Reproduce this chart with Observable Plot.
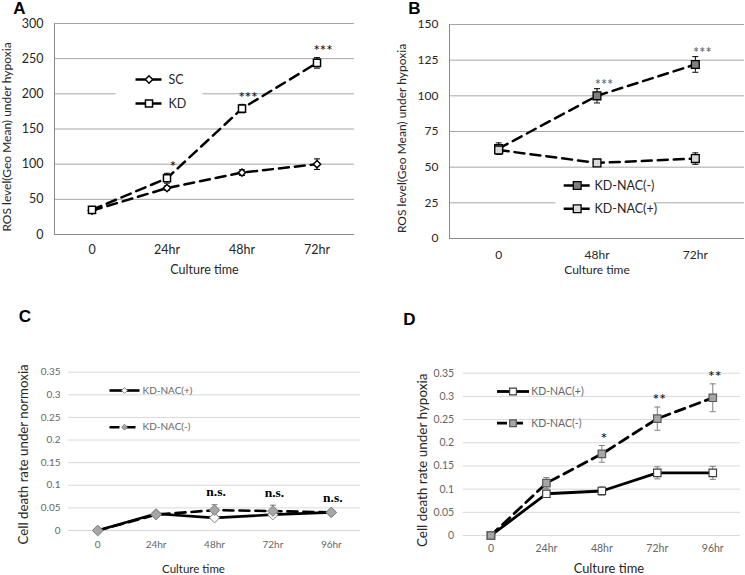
<!DOCTYPE html>
<html><head><meta charset="utf-8">
<script src="https://cdn.jsdelivr.net/npm/d3@7"></script>
<script src="https://cdn.jsdelivr.net/npm/@observablehq/plot@0.6"></script>
<style>
body{margin:0;background:#fff;}
#fig{position:relative;width:745px;height:575px;overflow:hidden;background:#fff;}
#fig > div{position:absolute;}
</style></head><body><div id="fig"></div>
<script>
// ---------- DATA ----------
// Panel A
const timesA = ["0", "24hr", "48hr", "72hr"];
const scMeanA = [34, 66, 88, 100];
const scErrA = [2, 3, 4, 7.5];
const kdMeanA = [35, 80, 179, 244];
const kdErrA = [3, 7, 6, 7.5];
const sigA = ["", "*", "***", "***"];
// Panel B
const timesB = ["0", "48hr", "72hr"];
const nacMinusB = [63, 100, 122];
const nacMinusErrB = [4, 5, 5.5];
const nacPlusB = [62, 53, 56];
const nacPlusErrB = [3, 1.5, 4];
const sigB = ["", "***", "***"];
// Panel C
const timesC = ["0", "24hr", "48hr", "72hr", "96hr"];
const nacPlusC = [0, 0.037, 0.028, 0.035, 0.040];
const nacPlusErrC = [0, 0.004, 0.003, 0.004, 0.003];
const nacMinusC = [0, 0.035, 0.045, 0.043, 0.040];
const nacMinusErrC = [0, 0.005, 0.012, 0.013, 0.004];
const sigC = ["", "", "n.s.", "n.s.", "n.s."];
// Panel D
const timesD = ["0", "24hr", "48hr", "72hr", "96hr"];
const nacPlusD = [0, 0.090, 0.096, 0.135, 0.135];
const nacPlusErrD = [0, 0.006, 0.009, 0.013, 0.014];
const nacMinusD = [0, 0.113, 0.176, 0.252, 0.297];
const nacMinusErrD = [0, 0.012, 0.018, 0.025, 0.030];
const sigD = ["", "", "*", "**", "**"];

const ticksA = d3.range(0, 301, 50);
const ticksB = d3.range(0, 151, 25);
const ticksCD = d3.range(0, 0.351, 0.05);

// ---------- helpers ----------
const hline = w => ({draw(ctx) { ctx.moveTo(-w, 0); ctx.lineTo(w, 0); }});
const box = (w, h) => ({draw(ctx) { ctx.rect(-w / 2, -h / 2, w, h); }});
const fmtDec = d => String(+d.toFixed(2));

function buildPanel(c) {
  const n = c.cats.length;
  const m = c.margin;
  const marks = [];
  marks.push(Plot.gridY({ticks: c.yTicks, stroke: c.gridColor, strokeOpacity: 1, strokeWidth: 1}));
  if (c.axisColor) {
    marks.push(Plot.ruleY([c.yDomain[0]], {stroke: c.axisColor, strokeWidth: 1}));
    marks.push(Plot.ruleX([-0.5], {stroke: c.axisColor, strokeWidth: 1}));
  }
  const L = c.legend;
  if (L.bg) {
    marks.push(Plot.dot([0], {frameAnchor: "top-left",
      dx: (L.bg[0] + L.bg[2]) / 2 - m.left, dy: (L.bg[1] + L.bg[3]) / 2 - m.top,
      symbol: box(L.bg[2] - L.bg[0], L.bg[3] - L.bg[1]), fill: "white", stroke: "none"}));
  }
  marks.push(Plot.axisY({ticks: c.yTicks, tickFormat: c.yFmt, tickSize: 0, tickPadding: c.yTickPad,
    fontSize: c.tickFont, color: c.tickColor, label: null}));
  marks.push(Plot.axisX({ticks: d3.range(n), tickFormat: i => c.cats[i], tickSize: 0, tickPadding: c.xTickPad,
    fontSize: c.tickFont, color: c.tickColor, label: null}));
  marks.push(Plot.text([c.xTitle], {text: d => d, frameAnchor: "bottom", textAnchor: "middle", lineAnchor: "middle",
    dx: c.xTitleDx, dy: c.xTitleDy, fontSize: c.xTitleFont, fill: c.titleColor}));
  marks.push(Plot.text([c.yTitle], {text: d => d, frameAnchor: "left", textAnchor: "middle", lineAnchor: "middle",
    rotate: -90, dx: c.yTitleDx, dy: c.yTitleDy, fontSize: c.yTitleFont, fill: c.titleColor}));
  marks.push(Plot.text([c.letter], {text: d => d, frameAnchor: "top-left", textAnchor: "middle", lineAnchor: "middle",
    dx: c.letterPos[0] - m.left, dy: c.letterPos[1] - m.top, fontSize: 17, fontWeight: "bold", fill: "black",
    fontFamily: "Liberation Sans, Arial, sans-serif"}));
  const rows = c.series.map(s => s.mean.map((v, i) => ({t: i, y: v, e: s.err[i]})));
  c.series.forEach((s, k) => {
    marks.push(Plot.line(rows[k], {x: "t", y: "y", stroke: "black", strokeWidth: s.lw, strokeDasharray: s.dash}));
  });
  c.series.forEach((s, k) => {
    const re = rows[k].filter(d => d.e > 0);
    marks.push(Plot.ruleX(re, {x: "t", y1: d => d.y - d.e, y2: d => d.y + d.e, stroke: s.errColor, strokeWidth: 1}));
    marks.push(Plot.dot(re, {x: "t", y: d => d.y + d.e, symbol: hline(s.capW), stroke: s.errColor, strokeWidth: 1, fill: "none"}));
    marks.push(Plot.dot(re, {x: "t", y: d => d.y - d.e, symbol: hline(s.capW), stroke: s.errColor, strokeWidth: 1, fill: "none"}));
  });
  c.series.forEach((s, k) => {
    marks.push(Plot.dot(rows[k], {x: "t", y: "y", symbol: s.symbol, r: s.r, fill: s.fill, stroke: s.stroke, strokeWidth: s.mw}));
  });
  const sigRows = c.sig.map((lab, i) => ({t: i, s: lab,
    y: d3.max(rows, r => r[i].y + r[i].e)})).filter(d => d.s);
  marks.push(Plot.text(sigRows, {x: "t", y: "y", text: "s", dx: c.sigDx, dy: c.sigDy, fontSize: c.sigFont,
    fill: c.sigColor, fontWeight: c.sigWeight || "normal", fontFamily: c.sigFamily || "Lato, sans-serif"}));
  c.series.forEach((s, k) => {
    const dy = L.y0 + k * L.gap - m.top;
    marks.push(Plot.dot([0], {frameAnchor: "top-left", dx: L.lineX - m.left, dy, symbol: hline(L.half),
      stroke: "black", strokeWidth: s.lw, strokeDasharray: s.dash, fill: "none"}));
    marks.push(Plot.dot([0], {frameAnchor: "top-left", dx: L.lineX - m.left, dy, symbol: s.symbol,
      r: s.lr || s.r, fill: s.fill, stroke: s.stroke, strokeWidth: s.mw}));
    marks.push(Plot.text([s.name], {text: d => d, frameAnchor: "top-left", dx: L.textX - m.left, dy,
      textAnchor: "start", lineAnchor: "middle", fontSize: L.fontSize, fill: L.color}));
  });
  const svg = Plot.plot({
    width: c.width, height: c.height,
    marginTop: m.top, marginRight: m.right, marginBottom: m.bottom, marginLeft: m.left,
    x: {domain: [-0.5, n - 0.5], label: null},
    y: {domain: c.yDomain, label: null},
    style: {fontFamily: "Lato, sans-serif", background: "white", color: "#262626", overflow: "visible"},
    marks
  });
  const holder = document.createElement("div");
  holder.style.left = c.left + "px";
  holder.style.top = c.top + "px";
  holder.appendChild(svg);
  document.getElementById("fig").appendChild(holder);
}

// ---------- Panel A ----------
buildPanel({
  left: 0, top: 0, width: 370, height: 290,
  margin: {top: 23, right: 16, bottom: 56, left: 54},
  cats: timesA, yDomain: [0, 300], yTicks: ticksA, yFmt: d => d,
  gridColor: "#a6a6a6", axisColor: "#8c8c8c",
  tickFont: 12.5, tickColor: "#262626", yTickPad: 11, xTickPad: 11,
  xTitle: "Culture time", xTitleFont: 12.5, xTitleDx: 0, xTitleDy: 35,
  yTitle: "ROS level(Geo Mean) under hypoxia", yTitleFont: 12, yTitleDx: -47.5, yTitleDy: 8,
  titleColor: "#262626",
  letter: "A", letterPos: [19, 8],
  series: [
    {name: "SC", mean: scMeanA, err: scErrA, symbol: "diamond2", r: 3.3, fill: "white", stroke: "black", mw: 1.5,
     lw: 2.5, dash: "10,6", errColor: "black", capW: 3},
    {name: "KD", mean: kdMeanA, err: kdErrA, symbol: "square", r: 4, fill: "white", stroke: "black", mw: 1.5,
     lw: 2.5, dash: "10,6", errColor: "black", capW: 3}
  ],
  sig: sigA, sigDx: 6, sigDy: -6, sigFont: 15, sigColor: "black",
  legend: {bg: [115, 64, 202, 121], lineX: 148.5, half: 13.5, textX: 168, y0: 79, gap: 24, fontSize: 12.5, color: "#262626"}
});

// ---------- Panel B ----------
buildPanel({
  left: 370, top: 0, width: 375, height: 290,
  margin: {top: 24, right: 1, bottom: 52, left: 79},
  cats: timesB, yDomain: [0, 150], yTicks: ticksB, yFmt: d => d,
  gridColor: "#a6a6a6", axisColor: "#8c8c8c",
  tickFont: 12, tickColor: "#262626", yTickPad: 11, xTickPad: 12,
  xTitle: "Culture time", xTitleFont: 12, xTitleDx: 0, xTitleDy: 32,
  yTitle: "ROS level(Geo Mean) under hypoxia", yTitleFont: 12, yTitleDx: -47, yTitleDy: 7,
  titleColor: "#262626",
  letter: "B", letterPos: [44, 8],
  series: [
    {name: "KD-NAC(-)", mean: nacMinusB, err: nacMinusErrB, symbol: "square", r: 4.4, fill: "#7f7f7f", stroke: "black", mw: 1.3,
     lw: 2.5, dash: "10,6", errColor: "black", capW: 3},
    {name: "KD-NAC(+)", mean: nacPlusB, err: nacPlusErrB, symbol: "square", r: 4.4, fill: "#d9d9d9", stroke: "black", mw: 1.3,
     lw: 2.5, dash: "10,6", errColor: "black", capW: 3}
  ],
  sig: sigB, sigDx: 7, sigDy: -3, sigFont: 14.5, sigColor: "#595959",
  legend: {bg: [185, 172, 283, 222], lineX: 206.7, half: 13.5, textX: 224, y0: 185, gap: 23.3, fontSize: 12.5, color: "#262626"}
});

// ---------- Panel C ----------
buildPanel({
  left: 0, top: 290, width: 370, height: 285,
  margin: {top: 81.7, right: 10, bottom: 45, left: 68},
  cats: timesC, yDomain: [0, 0.35], yTicks: ticksCD, yFmt: fmtDec,
  gridColor: "#d9d9d9", axisColor: null,
  tickFont: 10, tickColor: "#666666", yTickPad: 8, xTickPad: 10.4,
  xTitle: "Culture time", xTitleFont: 11.5, xTitleDx: -21, xTitleDy: 39,
  yTitle: "Cell death rate under normoxia", yTitleFont: 13.3, yTitleDx: -44.5, yTitleDy: 3,
  titleColor: "#262626",
  letter: "C", letterPos: [24.5, 26],
  series: [
    {name: "KD-NAC(+)", mean: nacPlusC, err: nacPlusErrC, symbol: "diamond2", r: 4.6, lr: 2.6, fill: "white", stroke: "#7f7f7f", mw: 1,
     lw: 2.6, dash: null, errColor: "#7f7f7f", capW: 3},
    {name: "KD-NAC(-)", mean: nacMinusC, err: nacMinusErrC, symbol: "diamond2", r: 4.8, lr: 2.6, fill: "#a6a6a6", stroke: "#7f7f7f", mw: 1,
     lw: 2.6, dash: "10,6", errColor: "#7f7f7f", capW: 3}
  ],
  sig: sigC, sigDx: 1.5, sigDy: -13, sigFont: 13.5, sigColor: "black", sigWeight: "bold",
  sigFamily: "Liberation Serif, Times New Roman, serif",
  legend: {bg: null, lineX: 124, half: 15, textX: 142, y0: 100, gap: 36.7, fontSize: 10, color: "#666666"}
});

// ---------- Panel D ----------
buildPanel({
  left: 370, top: 290, width: 375, height: 285,
  margin: {top: 82.7, right: 5, bottom: 40, left: 92.7},
  cats: timesD, yDomain: [0, 0.35], yTicks: ticksCD, yFmt: fmtDec,
  gridColor: "#d9d9d9", axisColor: null,
  tickFont: 10.5, tickColor: "#666666", yTickPad: 9, xTickPad: 9,
  xTitle: "Culture time", xTitleFont: 12.9, xTitleDx: 7, xTitleDy: 33,
  yTitle: "Cell death rate under hypoxia", yTitleFont: 13.5, yTitleDx: -40.2, yTitleDy: 6,
  titleColor: "#262626",
  letter: "D", letterPos: [39, 29],
  series: [
    {name: "KD-NAC(+)", mean: nacPlusD, err: nacPlusErrD, symbol: "square", r: 4.2, lr: 3.8, fill: "white", stroke: "#404040", mw: 1.2,
     lw: 2.8, dash: null, errColor: "#7f7f7f", capW: 3},
    {name: "KD-NAC(-)", mean: nacMinusD, err: nacMinusErrD, symbol: "square", r: 4.2, lr: 3.8, fill: "#a6a6a6", stroke: "#595959", mw: 1.2,
     lw: 2.8, dash: "10,6", errColor: "#7f7f7f", capW: 3}
  ],
  sig: sigD, sigDx: 2, sigDy: -7, sigFont: 16, sigColor: "black",
  legend: {bg: null, lineX: 142.5, half: 16, textX: 160.7, y0: 101, gap: 31.7, fontSize: 10.5, color: "#666666"}
});
</script></body></html>
